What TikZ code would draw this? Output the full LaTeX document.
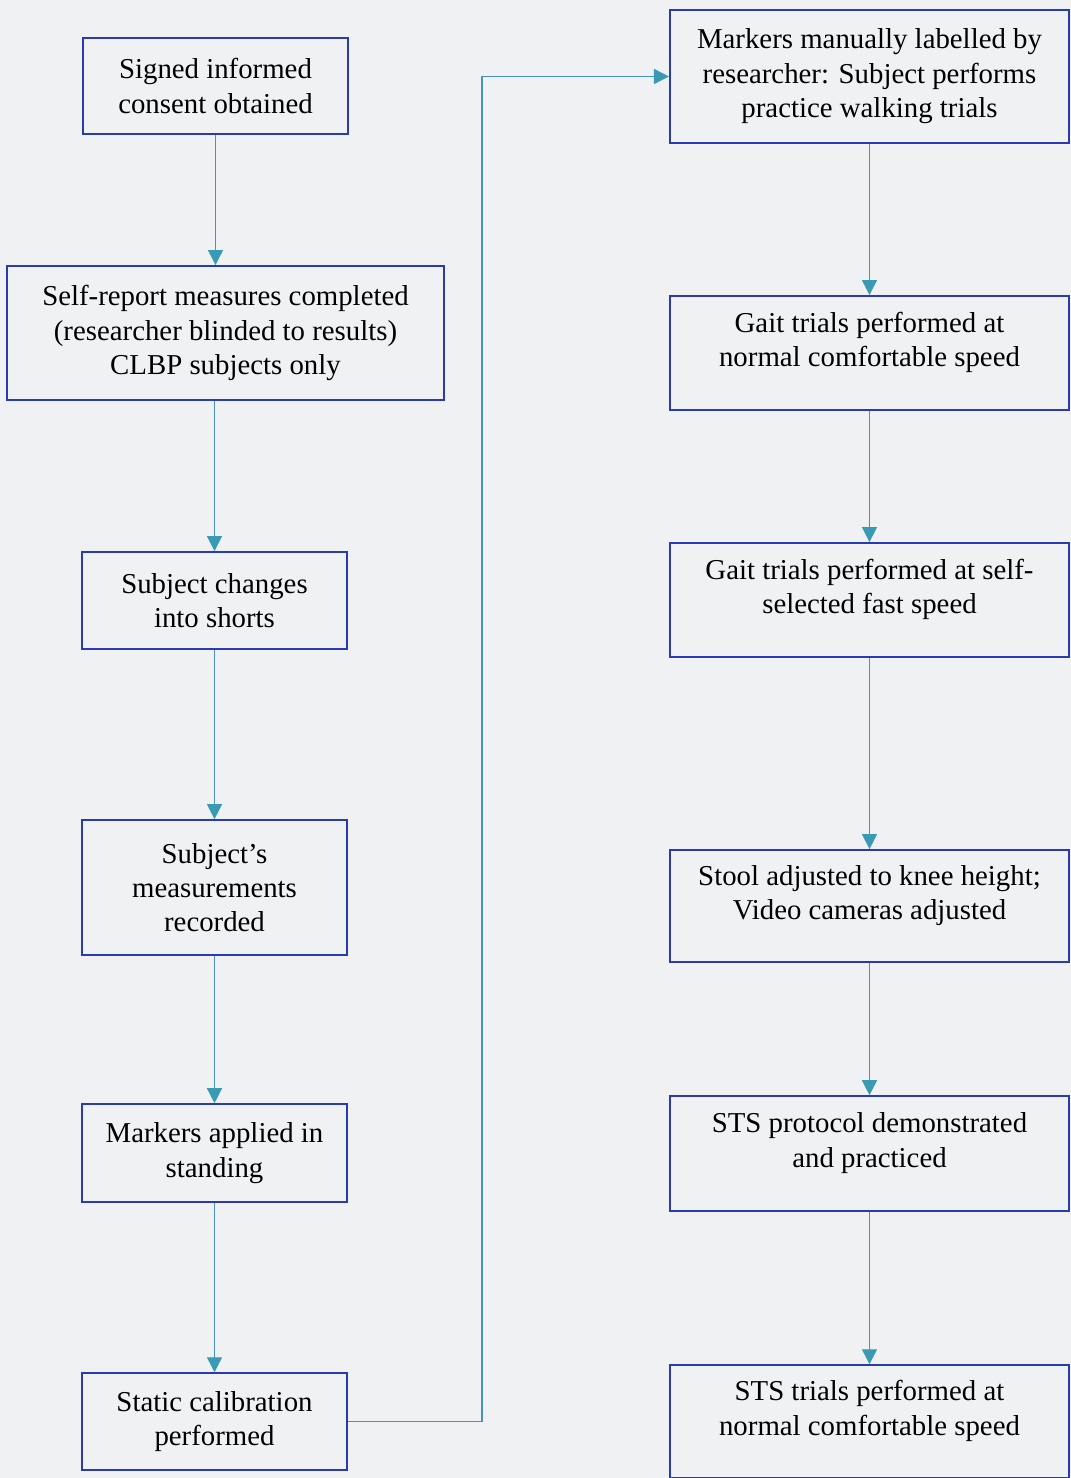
\documentclass[tikz,border=0pt]{standalone}
\usepackage{fontspec}
\setmainfont{Liberation Serif}
\usetikzlibrary{arrows.meta, positioning}

\definecolor{boxblue}{HTML}{2A3AB0}
\definecolor{linkblue}{HTML}{4A90C8}
\definecolor{tipteal}{HTML}{3A9AB4}
\definecolor{paper}{HTML}{EFF1F3}

\begin{document}
\begin{tikzpicture}[
    x=0.02cm, y=-0.02cm,
    arr/.style={-{Triangle[width=0.3cm, length=0.3cm, color=tipteal]}, draw=linkblue, line width=0.8pt},
    stepbox/.style={rectangle, draw=boxblue, line width=1.2pt, align=center, inner sep=0pt,
        font=\fontsize{16.4}{19.6}\selectfont, text=black},
    leftbox/.style={stepbox, minimum width=5.3cm},
    rightbox/.style={stepbox, minimum width=7.98cm, text depth=0.55cm},
]

    \fill[paper] (0,0) rectangle (1071,1478);
    \useasboundingbox (0,0) rectangle (1071,1478);

    % left column
    \node[leftbox, minimum height=1.92cm] (b1) at (215.5,86) {Signed informed\\consent obtained};
    \node[leftbox, minimum width=8.74cm, minimum height=2.68cm, below=2.6cm of b1, xshift=0.2cm] (b2)
        {Self-report measures completed\\(researcher blinded to results)\\CLBP subjects only};
    \node[leftbox, minimum height=1.94cm, below=3.0cm of b2, xshift=-0.22cm] (b3) {Subject changes\\into shorts};
    \node[leftbox, minimum height=2.7cm, below=3.38cm of b3] (b4) {Subject's\\measurements\\recorded};
    \node[leftbox, minimum height=1.96cm, below=2.94cm of b4] (b5) {Markers applied in\\standing};
    \node[leftbox, minimum height=1.94cm, below=3.38cm of b5] (b6) {Static calibration\\performed};

    % right column
    \node[stepbox, minimum width=7.98cm, minimum height=2.66cm] (b7) at (869.5,76.5)
        {Markers manually labelled by\\researcher: Subject performs\\practice walking trials};
    \node[rightbox, minimum height=2.28cm, below=3.02cm of b7] (b8) {Gait trials performed at\\normal comfortable speed};
    \node[rightbox, minimum height=2.28cm, below=2.62cm of b8] (b9) {Gait trials performed at self-\\selected fast speed};
    \node[rightbox, minimum height=2.24cm, below=3.82cm of b9] (b10) {Stool adjusted to knee height;\\Video cameras adjusted};
    \node[rightbox, minimum height=2.3cm, below=2.64cm of b10] (b11) {STS protocol demonstrated\\and practiced};
    \node[rightbox, minimum height=2.26cm, below=3.04cm of b11] (b12) {STS trials performed at\\normal comfortable speed};

    \coordinate (riser) at (482,0);

    \draw[arr] (b1) -- (b1 |- b2.north);
    \draw[arr] (b3 |- b2.south) -- (b3);
    \draw[arr] (b3) -- (b4);
    \draw[arr] (b4) -- (b5);
    \draw[arr] (b5) -- (b6);

    \draw[arr] (b6.east) -- (b6.east -| riser) |- (b7.west);

    \draw[arr] (b7.south -| b8) -- (b8.north);
    \draw[arr] (b8) -- (b9);
    \draw[arr] (b9) -- (b10);
    \draw[arr] (b10) -- (b11);
    \draw[arr] (b11) -- (b12);

\end{tikzpicture}
\end{document}
